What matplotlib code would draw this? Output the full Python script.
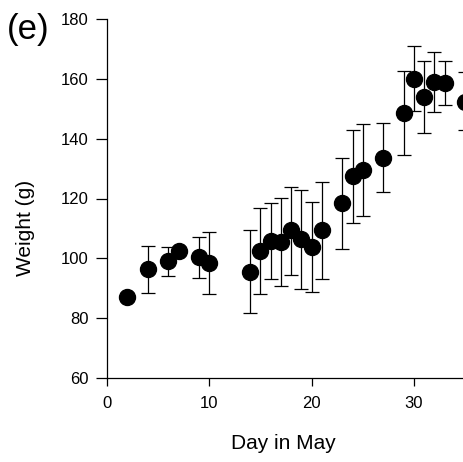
import matplotlib
matplotlib.use('Agg')
import matplotlib.pyplot as plt

plt.rcParams['font.family'] = ['Liberation Sans', 'DejaVu Sans']

# day of May, mean weight (g), upper and lower ends of the error bars
days = [2, 4, 6, 7, 9, 10, 14, 15, 16, 17, 18, 19, 20, 21, 23, 24, 25, 27, 29, 30, 31, 32, 33, 35]
weight = [87.1, 96.3, 99.1, 102.5, 100.4, 98.3, 95.5, 102.5, 105.8, 105.3, 109.4, 106.3, 103.9, 109.4,
          118.4, 127.5, 129.5, 133.7, 148.7, 160.0, 153.8, 159.0, 158.7, 152.3]
err_hi = [87.1, 104.1, 103.9, 102.5, 107.2, 108.7, 109.5, 116.9, 118.5, 120.1, 123.9, 122.8, 118.8, 125.6,
          133.6, 142.9, 144.9, 145.2, 162.7, 170.9, 165.9, 168.9, 166.0, 162.2]
err_lo = [87.1, 88.3, 94.0, 102.5, 93.3, 88.1, 81.6, 88.0, 93.0, 90.7, 94.3, 89.7, 88.6, 93.0,
          103.0, 111.9, 114.1, 122.1, 134.6, 149.3, 141.8, 149.0, 151.3, 142.8]

lower = [w - lo for w, lo in zip(weight, err_lo)]
upper = [hi - w for w, hi in zip(weight, err_hi)]

fig = plt.figure(figsize=(4.64, 4.62), dpi=100)
# axes runs past the right edge of the figure, so the last point is cut off
ax = fig.add_axes([107 / 464, 84 / 462, 409.2 / 464, 359 / 462])

ax.errorbar(days, weight, yerr=[lower, upper], fmt='none', ecolor='black',
            elinewidth=0.9, capsize=5, capthick=0.9, zorder=2)
ax.plot(days, weight, 'o', color='black', markersize=11.5, zorder=3)

ax.set_xlim(0, 40)
ax.set_ylim(60, 180)
ax.set_xticks([0, 10, 20, 30])
ax.set_yticks(range(60, 181, 20))

for s in ['top', 'right']:
    ax.spines[s].set_visible(False)
for s in ['left', 'bottom']:
    ax.spines[s].set_linewidth(0.9)

ax.tick_params(axis='x', direction='out', length=5.8, width=0.9, pad=7, labelsize=12)
ax.tick_params(axis='y', direction='out', length=8, width=0.9, pad=5, labelsize=12)

ax.set_xlabel('Day in May', fontsize=15)
ax.set_ylabel('Weight (g)', fontsize=15)
ax.xaxis.set_label_coords(0.43, -0.155)
ax.yaxis.set_label_coords(-0.175, 0.418)

fig.text(7 / 464, 1 - 13 / 462, '(e)', fontsize=25, ha='left', va='top')

fig.savefig('out.png', dpi=100)
